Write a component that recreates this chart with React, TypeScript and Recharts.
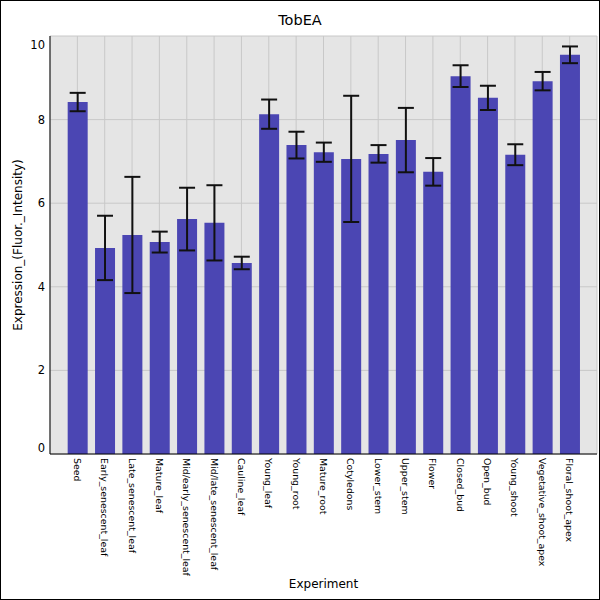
import React from 'react';
import { BarChart, Bar, XAxis, YAxis, CartesianGrid, ErrorBar, Label } from 'recharts';

const categories = [
  'Seed', 'Early_senescent_leaf', 'Late_senescent_leaf', 'Mature_leaf',
  'Mid/early_senescent_leaf', 'Mid/late_senescent_leaf', 'Cauline_leaf',
  'Young_leaf', 'Young_root', 'Mature_root', 'Cotyledons', 'Lower_stem',
  'Upper_stem', 'Flower', 'Closed_bud', 'Open_bud', 'Young_shoot',
  'Vegetative_shoot_apex', 'Floral_shoot_apex',
];
const expression = [
  8.42, 4.93, 5.24, 5.07, 5.62, 5.53, 4.57, 8.13, 7.39, 7.22,
  7.06, 7.18, 7.51, 6.75, 9.04, 8.52, 7.16, 8.92, 9.55,
];
const stdDev = [
  0.22, 0.77, 1.39, 0.25, 0.75, 0.9, 0.15, 0.35, 0.32, 0.23,
  1.51, 0.21, 0.77, 0.33, 0.26, 0.29, 0.25, 0.22, 0.2,
];
const yTicks = [0, 2, 4, 6, 8, 10];

const data = categories.map((name, i) => ({ name, value: expression[i], sd: stdDev[i] }));

const FONT = '"DejaVu Sans", sans-serif';

const XTick = (props: any) => {
  const { x, y, payload } = props;
  return (
    <text
      transform={`translate(${x},${y}) rotate(90)`}
      textAnchor="start"
      dominantBaseline="central"
      fontSize={9.4}
      fontFamily={FONT}
      fill="#000"
    >
      {payload.value}
    </text>
  );
};

const YTick = (props: any) => {
  const { x, y, payload } = props;
  let yy = y;
  if (payload.value === 10) yy = y + 9;
  if (payload.value === 0) yy = y - 6;
  return (
    <text x={x} y={yy} textAnchor="end" dominantBaseline="central" fontSize={11.5} fontFamily={FONT} fill="#000">
      {payload.value}
    </text>
  );
};

const YLabel = (props: any) => {
  const vb = props.viewBox || { x: 0, y: 36, width: 50, height: 418 };
  const cx = vb.x + 18;
  const cy = vb.y + vb.height / 2;
  return (
    <text
      x={cx}
      y={cy}
      transform={`rotate(-90, ${cx}, ${cy})`}
      textAnchor="middle"
      dominantBaseline="central"
      fontSize={12}
      fontFamily={FONT}
      fill="#000"
    >
      Expression_(Fluor._Intensity)
    </text>
  );
};

export default function App() {
  return (
    <div style={{ position: 'absolute', left: 0, top: 0, width: 600, height: 600, background: '#fff' }}>
      <BarChart
        width={600}
        height={600}
        data={data}
        margin={{ top: 36, right: 3, left: 0, bottom: 0 }}
        barCategoryGap={0}
      >
        <CartesianGrid fill="#e5e5e5" stroke="#c8c8c8" strokeWidth={1} />
        <XAxis
          dataKey="name"
          type="category"
          interval={0}
          height={146}
          padding={{ left: 13.68, right: 13.68 }}
          tick={<XTick />}
          tickLine={false}
          tickSize={0}
          tickMargin={4}
          axisLine={{ stroke: '#000', strokeWidth: 1 }}
        >
          <Label
            value="Experiment"
            position="insideBottom"
            offset={12}
            fontSize={12}
            fontFamily={FONT}
            fill="#000"
          />
        </XAxis>
        <YAxis
          type="number"
          domain={[0, 10]}
          ticks={yTicks}
          width={50}
          tick={<YTick />}
          tickLine={false}
          tickSize={0}
          tickMargin={5}
          axisLine={{ stroke: '#000', strokeWidth: 1 }}
          label={<YLabel />}
        />
        <Bar dataKey="value" fill="#4b46b3" barSize={20} isAnimationActive={false}>
          <ErrorBar dataKey="sd" width={8} stroke="#111" strokeWidth={2} direction="y" />
        </Bar>
      </BarChart>
      <div
        style={{
          position: 'absolute',
          left: 0,
          top: 10,
          width: 600,
          textAlign: 'center',
          fontFamily: FONT,
          fontSize: 14.5,
          lineHeight: '20px',
          color: '#000',
        }}
      >
        TobEA
      </div>
      <div
        style={{
          position: 'absolute',
          left: 0,
          top: 0,
          width: 600,
          height: 600,
          boxSizing: 'border-box',
          border: '1px solid #000',
          pointerEvents: 'none',
        }}
      />
    </div>
  );
}
